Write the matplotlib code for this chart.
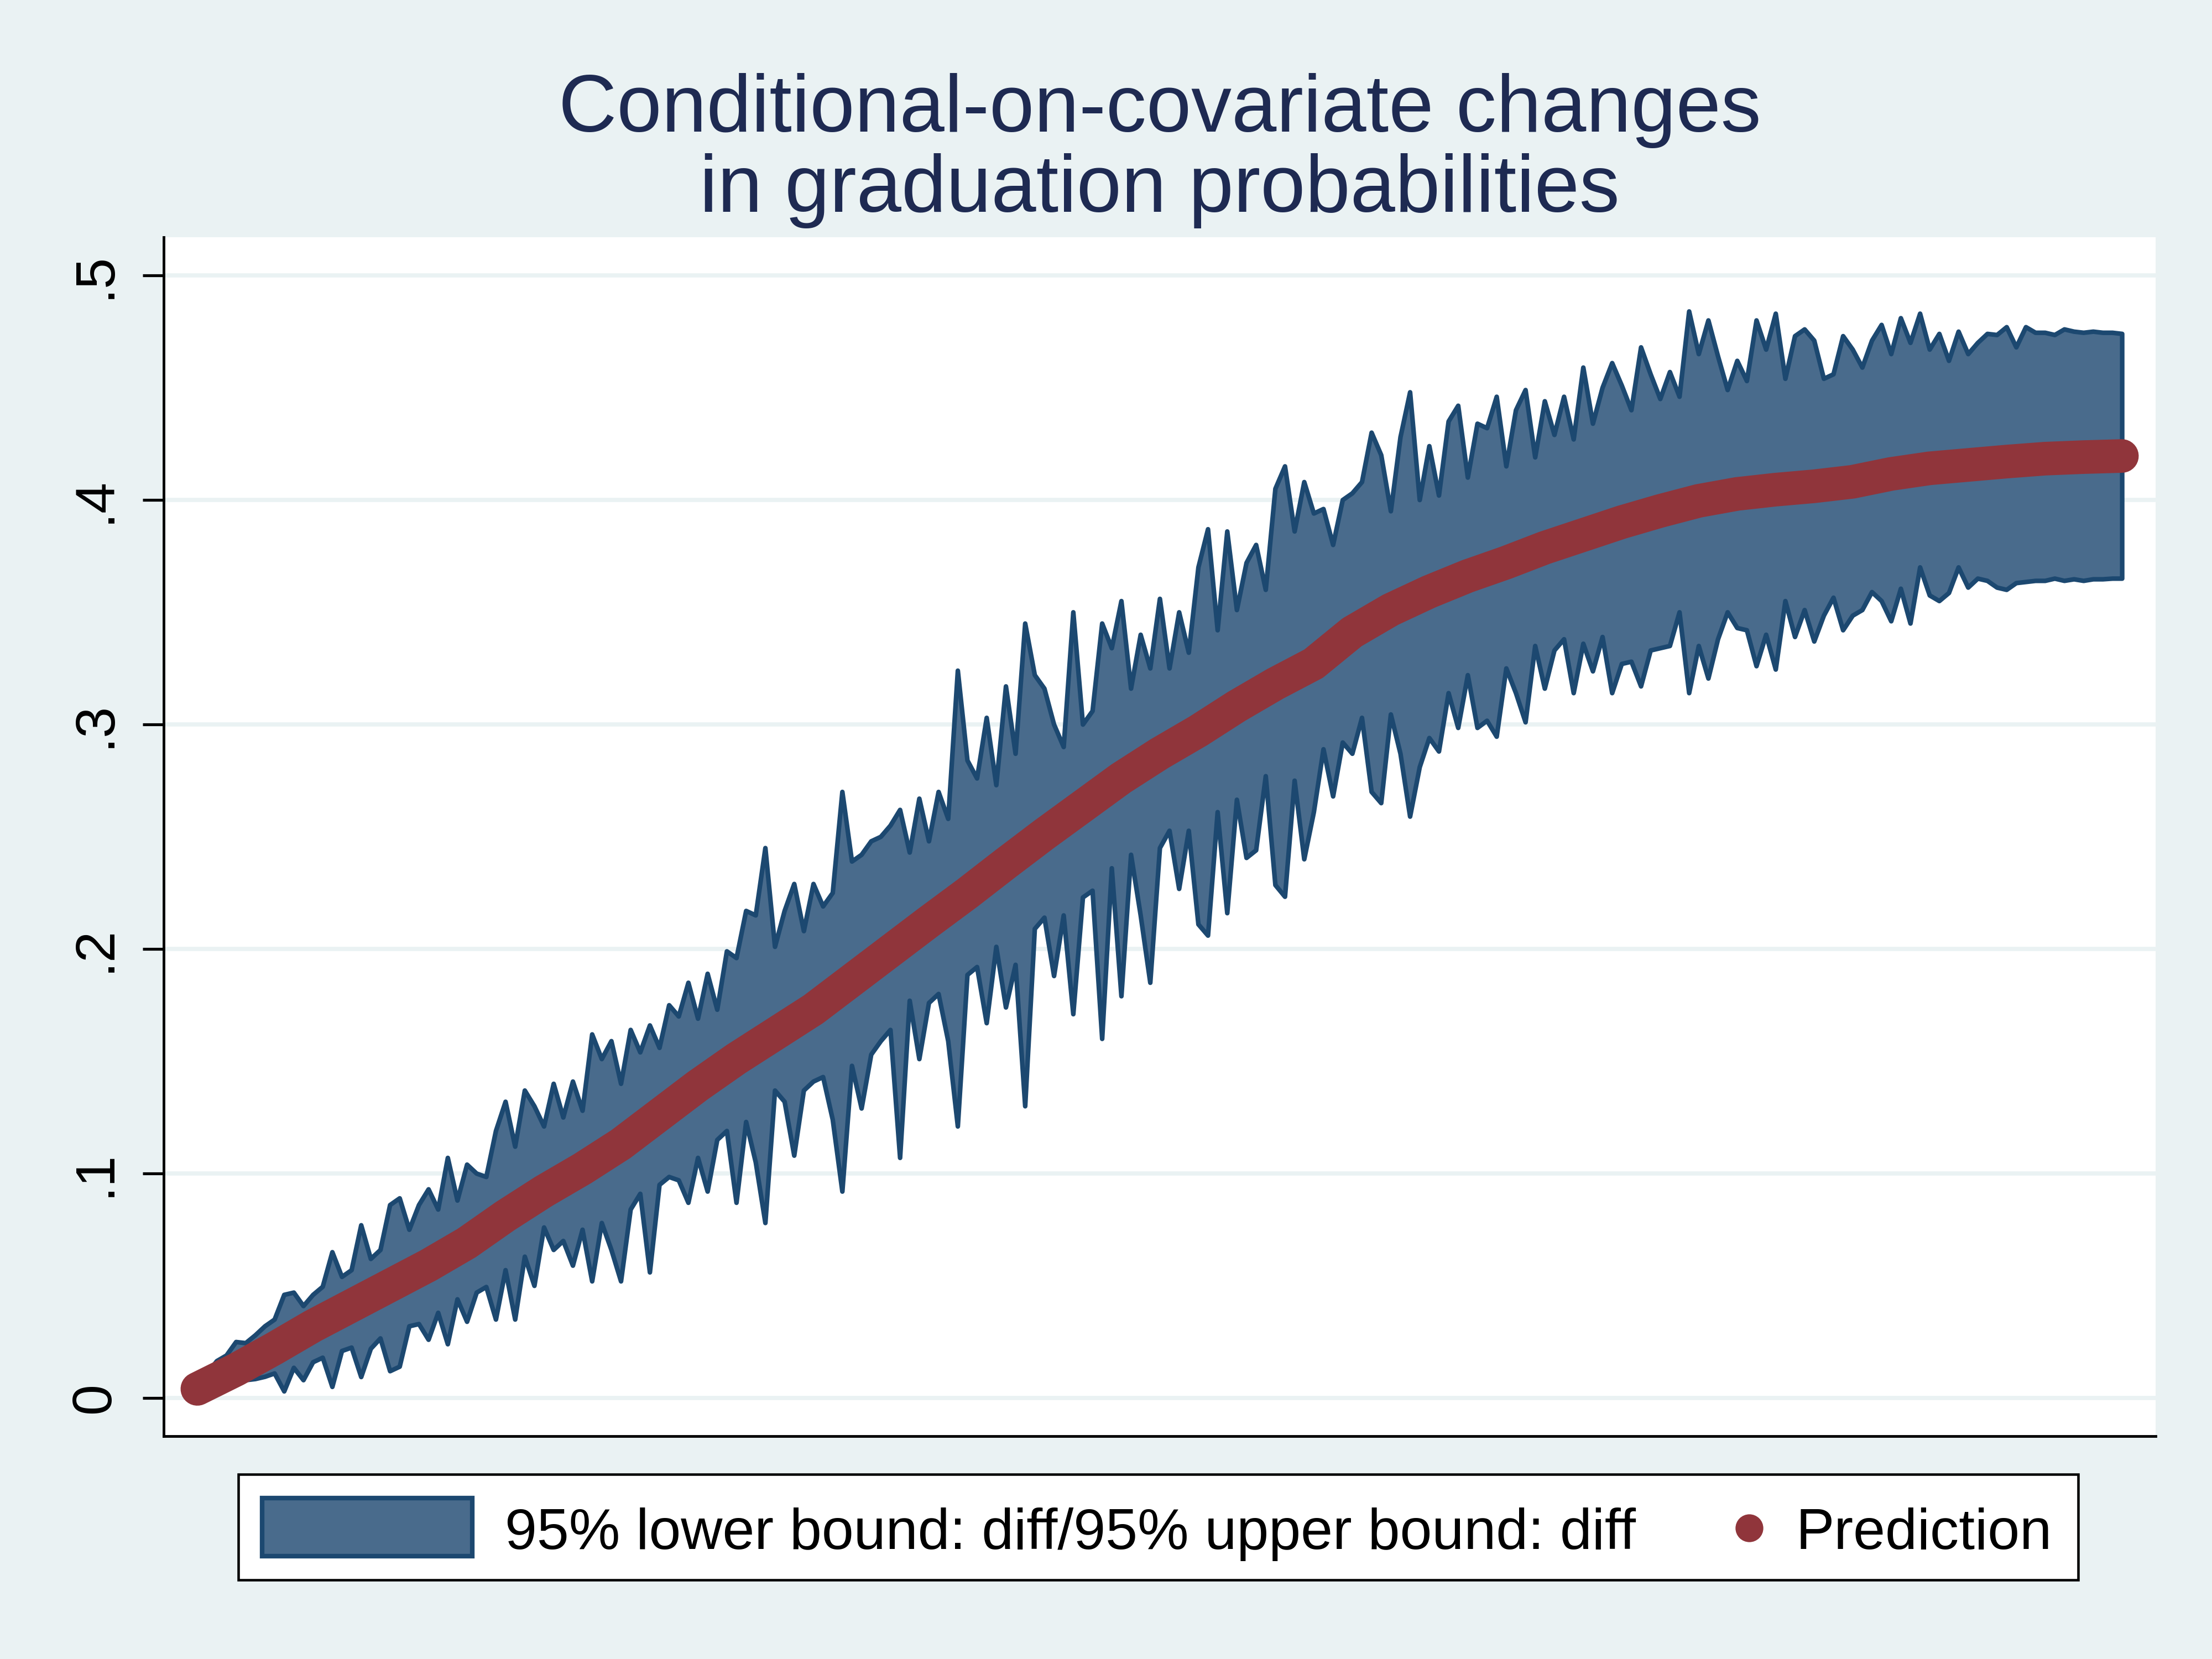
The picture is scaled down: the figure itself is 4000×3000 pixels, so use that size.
import numpy as np
import matplotlib
matplotlib.use("Agg")
import matplotlib.pyplot as plt
from matplotlib.patches import Rectangle
from matplotlib.lines import Line2D

# ---------------- data ----------------
upper = [
    0.006, 0.011, 0.0165, 0.019, 0.025, 0.0245, 0.028, 0.032, 0.035, 0.046,
    0.047, 0.041, 0.046, 0.0496, 0.065, 0.054, 0.057, 0.077, 0.062, 0.066,
    0.086, 0.089, 0.075, 0.086, 0.093, 0.084, 0.107, 0.088, 0.104, 0.100,
    0.0985, 0.119, 0.132, 0.112, 0.137, 0.130, 0.121, 0.140, 0.125, 0.141,
    0.128, 0.162, 0.151, 0.159, 0.140, 0.164, 0.154, 0.166, 0.156, 0.175,
    0.170, 0.185, 0.169, 0.189, 0.173, 0.199, 0.196, 0.217, 0.215, 0.245,
    0.201, 0.217, 0.229, 0.208, 0.229, 0.219, 0.225, 0.270, 0.239, 0.242,
    0.248, 0.250, 0.255, 0.262, 0.243, 0.267, 0.248, 0.270, 0.258, 0.324,
    0.284, 0.276, 0.303, 0.273, 0.317, 0.287, 0.345, 0.322, 0.316, 0.300,
    0.290, 0.350, 0.300, 0.306, 0.345, 0.334, 0.355, 0.316, 0.340, 0.325,
    0.356, 0.325, 0.350, 0.332, 0.370, 0.387, 0.342, 0.386, 0.351, 0.372,
    0.380, 0.360, 0.405, 0.415, 0.386, 0.408, 0.394, 0.396, 0.380, 0.400,
    0.403, 0.408, 0.430, 0.420, 0.395, 0.428, 0.448, 0.400, 0.424, 0.402,
    0.435, 0.442, 0.410, 0.434, 0.432, 0.446, 0.415, 0.440, 0.449, 0.419,
    0.444, 0.429, 0.446, 0.427, 0.459, 0.434, 0.450, 0.461, 0.451, 0.440,
    0.468, 0.456, 0.445, 0.457, 0.446, 0.484, 0.465, 0.480, 0.464, 0.449,
    0.462, 0.453, 0.480, 0.467, 0.483, 0.454, 0.473, 0.476, 0.471, 0.454,
    0.456, 0.473, 0.467, 0.459, 0.471, 0.478, 0.465, 0.481, 0.470, 0.483,
    0.467, 0.474, 0.462, 0.475, 0.465, 0.470, 0.474, 0.4735, 0.477, 0.468,
    0.477, 0.4745, 0.4745, 0.4735, 0.476, 0.475, 0.4745, 0.475, 0.4745, 0.4745,
    0.474,
]

lower = [
    0.003, 0.005, 0.006, 0.0065, 0.0075, 0.008, 0.0085, 0.0095, 0.011, 0.003,
    0.0135, 0.008, 0.016, 0.018, 0.005, 0.021, 0.0225, 0.0094, 0.022, 0.0266,
    0.012, 0.014, 0.032, 0.033, 0.026, 0.038, 0.024, 0.044, 0.034, 0.047,
    0.0495, 0.035, 0.057, 0.035, 0.063, 0.050, 0.076, 0.066, 0.070, 0.059,
    0.075, 0.052, 0.078, 0.066, 0.052, 0.084, 0.091, 0.056, 0.095, 0.0985,
    0.097, 0.087, 0.107, 0.092, 0.115, 0.119, 0.087, 0.123, 0.105, 0.078,
    0.137, 0.132, 0.108, 0.137, 0.141, 0.143, 0.124, 0.092, 0.148, 0.129,
    0.153, 0.159, 0.164, 0.107, 0.177, 0.151, 0.176, 0.180, 0.159, 0.121,
    0.1885, 0.192, 0.167, 0.201, 0.174, 0.193, 0.130, 0.209, 0.214, 0.188,
    0.215, 0.171, 0.223, 0.226, 0.160, 0.236, 0.179, 0.242, 0.215, 0.185,
    0.245, 0.2527, 0.2268, 0.2527, 0.211, 0.206, 0.261, 0.216, 0.2665, 0.2406,
    0.244, 0.277, 0.2285, 0.2233, 0.275, 0.240, 0.261, 0.289, 0.268, 0.292,
    0.287, 0.303, 0.270, 0.265, 0.3045, 0.287, 0.259, 0.281, 0.294, 0.288,
    0.314, 0.2985, 0.322, 0.2985, 0.3017, 0.2946, 0.325, 0.314, 0.301, 0.335,
    0.316, 0.333, 0.338, 0.314, 0.336, 0.3237, 0.339, 0.314, 0.327, 0.328,
    0.317, 0.333, 0.334, 0.335, 0.350, 0.314, 0.335, 0.3205, 0.338, 0.350,
    0.343, 0.342, 0.326, 0.340, 0.3245, 0.355, 0.339, 0.351, 0.337, 0.3485,
    0.3565, 0.342, 0.3485, 0.351, 0.359, 0.355, 0.346, 0.3605, 0.345, 0.370,
    0.3575, 0.355, 0.3586, 0.370, 0.361, 0.365, 0.364, 0.361, 0.360, 0.363,
    0.3635, 0.364, 0.364, 0.365, 0.364, 0.3647, 0.364, 0.3647, 0.3647, 0.365,
    0.365,
]

# prediction, every 4th observation
prediction = [
    0.004, 0.0125, 0.022, 0.032, 0.041, 0.050, 0.059, 0.069, 0.081, 0.092,
    0.102, 0.113, 0.126, 0.139, 0.151, 0.162, 0.173, 0.186, 0.199, 0.212,
    0.2247, 0.238, 0.251, 0.2635, 0.276, 0.287, 0.297, 0.308, 0.318, 0.327,
    0.341, 0.351, 0.359, 0.366, 0.372, 0.3786, 0.3843, 0.390, 0.395, 0.3995,
    0.4026, 0.4045, 0.406, 0.408, 0.4115, 0.414, 0.4155, 0.417, 0.4183, 0.419,
    0.4195,
]

ytick_values = [0, 0.1, 0.2, 0.3, 0.4, 0.5]
ytick_labels = ["0", ".1", ".2", ".3", ".4", ".5"]

title_lines = ["Conditional-on-covariate changes", "in graduation probabilities"]
legend_labels = ["95% lower bound: diff/95% upper bound: diff", "Prediction"]

# ---------------- style ----------------
BG = "#EAF2F3"
BAND_FILL = "#496B8C"
BAND_EDGE = "#1C4870"
RED = "#90353B"
TITLE_C = "#1E2A52"

plt.rcParams["font.family"] = ["Liberation Sans", "DejaVu Sans"]

fig = plt.figure(figsize=(16, 12), dpi=250, facecolor=BG)
ax = fig.add_axes([0.074, 0.1344, 0.9005, 0.7227])
ax.set_facecolor("white")

band_x = np.arange(len(upper))
pred_x = np.arange(0, len(upper), 4)

ax.fill_between(band_x, lower, upper, facecolor=BAND_FILL, edgecolor=BAND_EDGE,
                linewidth=2.4, zorder=2)
ax.plot(pred_x, prediction, color=RED, linewidth=17.5, solid_capstyle="round",
        solid_joinstyle="round", zorder=3)

ax.set_xlim(-3.5, 203.5)
ax.set_ylim(-0.017, 0.517)
ax.set_xticks([])
ax.set_yticks(ytick_values)
ax.set_yticklabels(ytick_labels, rotation=90, va="center", fontsize=29)
ax.tick_params(axis="y", length=11, width=1.5, pad=11, colors="black")
ax.yaxis.grid(True, color=BG, linewidth=2.2)
ax.set_axisbelow(True)
for s in ["top", "right"]:
    ax.spines[s].set_visible(False)
for s in ["left", "bottom"]:
    ax.spines[s].set_linewidth(1.4)
    ax.spines[s].set_color("black")

# title
fig.text(0.5243, 0.9207, title_lines[0], ha="center", va="baseline",
         fontsize=42, color=TITLE_C)
fig.text(0.5243, 0.8723, title_lines[1], ha="center", va="baseline",
         fontsize=42, color=TITLE_C)

# legend (drawn manually to match layout)
fig.patches.append(Rectangle((0.1078, 0.0476), 0.8316, 0.0638,
                             transform=fig.transFigure, facecolor="white",
                             edgecolor="black", linewidth=1.3, zorder=1))
fig.patches.append(Rectangle((0.1186, 0.0621), 0.0950, 0.0349,
                             transform=fig.transFigure, facecolor=BAND_FILL,
                             edgecolor=BAND_EDGE, linewidth=2.4, zorder=2))
fig.lines.append(Line2D([0.7908], [0.0791], transform=fig.transFigure,
                        marker="o", markersize=14.5, color=RED,
                        markeredgewidth=0, linestyle="none", zorder=2))
fig.text(0.2283, 0.0663, legend_labels[0], ha="left", va="baseline",
         fontsize=30, color="black", zorder=3)
fig.text(0.8119, 0.0663, legend_labels[1], ha="left", va="baseline",
         fontsize=30, color="black", zorder=3)

fig.savefig("out.png", dpi=250, facecolor=BG)
